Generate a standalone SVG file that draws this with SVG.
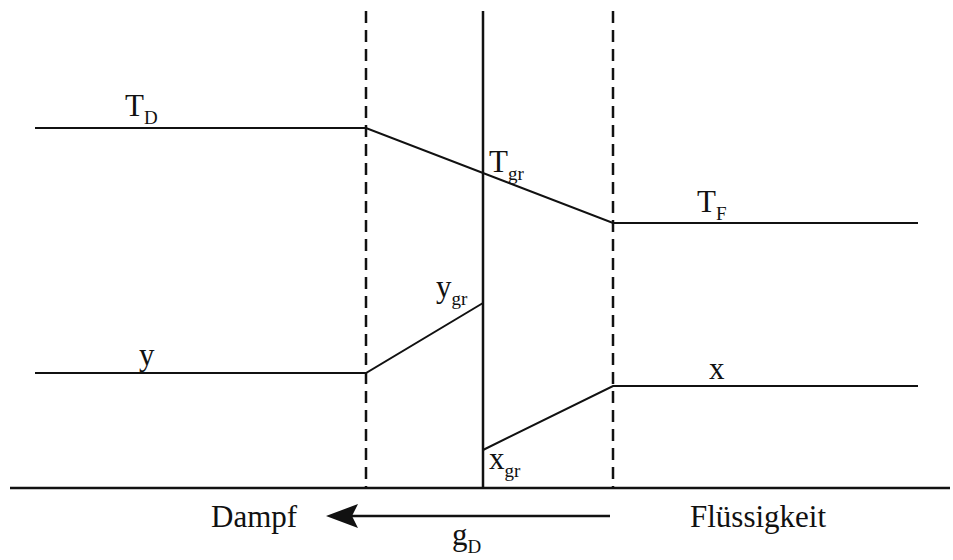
<svg xmlns="http://www.w3.org/2000/svg" width="953" height="560" viewBox="0 0 953 560">
<style>
.l{stroke:#111;stroke-width:2;fill:none}
.d{stroke:#111;stroke-width:2.5;stroke-dasharray:12 7;fill:none}
text{font-family:"Liberation Serif","Times New Roman",serif;font-size:31px;fill:#111}
.s{font-size:19px}
</style>
<g id="boundaries">
<line class="d" x1="366" y1="11" x2="366" y2="488"/>
<line class="d" x1="613" y1="11" x2="613" y2="488"/>
<line class="l" x1="483" y1="11" x2="483" y2="488" style="stroke-width:2.5"/>
<line class="l" x1="10" y1="488" x2="950" y2="488" style="stroke-width:2.5"/>
</g>
<g id="connectors">
<polyline class="l" points="35,128 366,128 613,223 918,223"/>
<polyline class="l" points="35,373 366,373 483,303"/>
<polyline class="l" points="483,450 613,386 918,386"/>
<line class="l" x1="610" y1="516" x2="350" y2="516" style="stroke-width:2.5"/>
<path d="M326,516 L358,504 L352,516 L358,528 Z" fill="#111"/>
</g>
<g id="labels">
<text x="125" y="116">T<tspan class="s" dy="8">D</tspan></text>
<text x="489" y="172">T<tspan class="s" dy="8">gr</tspan></text>
<text x="697" y="212">T<tspan class="s" dy="8">F</tspan></text>
<text x="139" y="365">y</text>
<text x="436" y="297">y<tspan class="s" dy="8">gr</tspan></text>
<text x="709" y="379">x</text>
<text x="489" y="469">x<tspan class="s" dy="8">gr</tspan></text>
<text x="211" y="527">Dampf</text>
<text x="690" y="527">Flüssigkeit</text>
<text x="452" y="545">g<tspan class="s" dy="8">D</tspan></text>
</g>
</svg>
